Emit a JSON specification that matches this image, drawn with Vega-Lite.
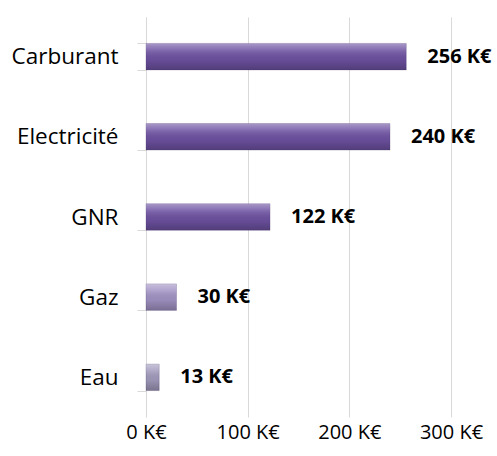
{
  "$schema": "https://vega.github.io/schema/vega-lite/v6.json",
  "width": 305,
  "height": 400,
  "autosize": "none",
  "padding": {"left": 146, "top": 17, "right": 46, "bottom": 39},
  "background": "white",
  "data": {
    "values": [
      {"cat": "Carburant", "value": 256, "label": "256 K€"},
      {"cat": "Electricité", "value": 240, "label": "240 K€"},
      {"cat": "GNR", "value": 122, "label": "122 K€"},
      {"cat": "Gaz", "value": 30, "label": "30 K€"},
      {"cat": "Eau", "value": 13, "label": "13 K€"}
    ]
  },
  "config": {
    "view": {"stroke": null},
    "font": "Open Sans"
  },
  "encoding": {
    "y": {
      "field": "cat", "type": "nominal", "sort": null,
      "scale": {"paddingInner": 0.67, "paddingOuter": 0.33},
      "axis": {
        "title": null, "domainColor": "#D9D9D9", "tickColor": "#D9D9D9",
        "tickBand": "extent", "tickSize": 9, "labelFontSize": 22.5,
        "labelColor": "#000000", "labelPadding": 19, "grid": false
      }
    },
    "x": {
      "field": "value", "type": "quantitative",
      "scale": {"domain": [0, 300], "nice": false},
      "axis": {
        "title": null, "values": [0, 100, 200, 300], "labelExpr": "datum.value + ' K€'",
        "domain": false, "ticks": false, "grid": true, "gridColor": "#D9D9D9",
        "labelFontSize": 20, "labelColor": "#000000", "labelPadding": 5, "labelFlush": false
      }
    }
  },
  "layer": [
    {
      "mark": {"type": "bar", "stroke": "#4A3A70", "strokeWidth": 0.5, "strokeOpacity": 0.5},
      "encoding": {
        "color": {
          "field": "cat", "type": "nominal", "legend": null,
          "scale": {"domain": ["Carburant", "Electricité", "GNR", "Gaz", "Eau"],
                    "range": ["#6E52A2", "#6E52A2", "#6E52A2", "#A293C4", "#A29BBD"]}
        }
      }
    },
    {
      "mark": {
        "type": "bar",
        "fill": {
          "gradient": "linear", "x1": 0, "y1": 0, "x2": 0, "y2": 1,
          "stops": [
            {"offset": 0, "color": "rgba(255,255,255,0.4)"},
            {"offset": 0.25, "color": "rgba(255,255,255,0.15)"},
            {"offset": 0.6, "color": "rgba(0,0,0,0.05)"},
            {"offset": 1, "color": "rgba(0,0,0,0.25)"}
          ]
        }
      },
      "encoding": {}
    },
    {
      "mark": {"type": "text", "align": "left", "dx": 21, "fontWeight": "bold", "fontSize": 20, "color": "#000000"},
      "encoding": {"text": {"field": "label"}}
    }
  ]
}
